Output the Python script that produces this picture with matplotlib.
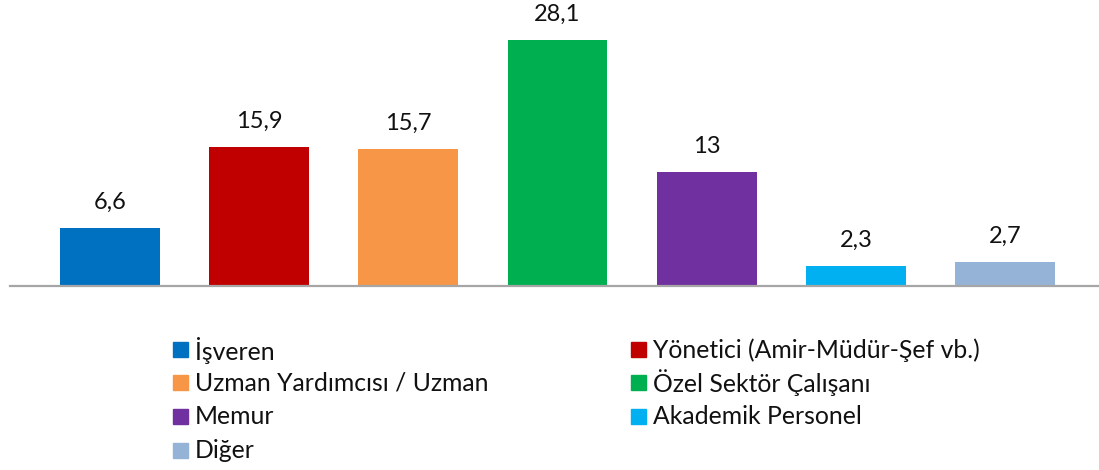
import matplotlib
matplotlib.use("Agg")
import matplotlib.pyplot as plt
from matplotlib.patches import Rectangle

categories = ["İşveren", "Yönetici (Amir-Müdür-Şef vb.)", "Uzman Yardımcısı / Uzman",
              "Özel Sektör Çalışanı", "Memur", "Akademik Personel", "Diğer"]
values = [6.6, 15.9, 15.7, 28.1, 13, 2.3, 2.7]
value_labels = ["6,6", "15,9", "15,7", "28,1", "13", "2,3", "2,7"]
colors = ["#0070C0", "#C00000", "#F79646", "#00B050", "#7030A0", "#00B0F0", "#95B3D7"]

plt.rcParams['font.family'] = ['Lato', 'DejaVu Sans']

W, H = 1099, 470
fig = plt.figure(figsize=(W / 100, H / 100), dpi=100)
ax = fig.add_axes([10 / W, (H - 286) / H, 1089 / W, 286 / H])

x = list(range(len(values)))
bars = ax.bar(x, values, width=0.67, color=colors, zorder=2)
ax.set_xlim(-0.67, 6.63)
ax.set_ylim(0, 286 / 8.754)
for b, lab in zip(bars, value_labels):
    ax.annotate(lab, (b.get_x() + b.get_width() / 2, b.get_height()),
                xytext=(0, 13.7), textcoords="offset points",
                ha="center", va="baseline", fontsize=17, color="#111111")

for s in ["top", "right", "left"]:
    ax.spines[s].set_visible(False)
ax.spines["bottom"].set_color("#A6A6A6")
ax.spines["bottom"].set_linewidth(1.6)
ax.set_xticks([])
ax.set_yticks([])

# legend (2 columns, Excel style)
col_x = [173, 631]
row_y = [349, 382, 416, 450]
for i, (cat, col) in enumerate(zip(categories, colors)):
    cx = col_x[i % 2]
    cy = row_y[i // 2]
    fig.add_artist(Rectangle(((cx) / W, (H - cy - 7.5) / H), 15 / W, 15 / H,
                             transform=fig.transFigure, color=col))
    fig.text((cx + 22) / W, (H - cy - 1) / H, cat, ha="left", va="center",
             fontsize=17.8, color="#111111")

fig.savefig("out.png", dpi=100)
